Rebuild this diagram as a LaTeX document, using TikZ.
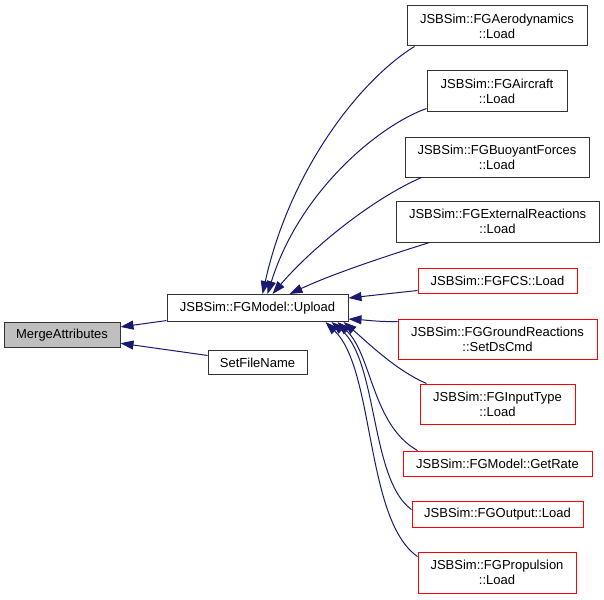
\documentclass[tikz,border=0pt]{standalone}
\usepackage{fontspec}
\setmainfont{Liberation Sans}
\usetikzlibrary{arrows.meta}
\definecolor{edgeblue}{RGB}{25,25,112}
\definecolor{boxgray}{RGB}{191,191,191}

\begin{document}
\begin{tikzpicture}[x=1pt,y=-1pt,
  fn/.style={draw=black!80,line width=1pt,fill=white,align=center,inner sep=0pt,
    font=\fontsize{13}{15}\selectfont},
  fnred/.style={fn,draw=red},
  call/.style={draw=edgeblue,line width=1pt,-{Triangle[length=13pt,width=9pt]}}]
  \useasboundingbox (0,0) rectangle (604,599);
  % left part
  \node[fn,fill=boxgray,minimum width=116pt,minimum height=25pt] (merge) at (62,335) {MergeAttributes};
  \node[fn,minimum width=181pt,minimum height=27pt] (upload) at (257.5,308) {JSBSim::FGModel::Upload};
  \node[fn,minimum width=99pt,minimum height=24pt] (setfile) at (257.5,362.5) {SetFileName};
  % callers of Upload
  \node[fn,minimum width=180pt,minimum height=40pt] (aero) at (497,26) {JSBSim::FGAerodynamics\\::Load};
  \node[fn,minimum width=140pt,minimum height=40pt] (aircraft) at (497,91) {JSBSim::FGAircraft\\::Load};
  \node[fn,minimum width=184pt,minimum height=40pt] (buoy) at (497,157) {JSBSim::FGBuoyantForces\\::Load};
  \node[fn,minimum width=203pt,minimum height=41pt] (ext) at (497.5,221.5) {JSBSim::FGExternalReactions\\::Load};
  \node[fnred,minimum width=159pt,minimum height=25pt] (fcs) at (497.5,280.5) {JSBSim::FGFCS::Load};
  \node[fnred,minimum width=199pt,minimum height=40pt] (ground) at (497.5,339) {JSBSim::FGGroundReactions\\::SetDsCmd};
  \node[fnred,minimum width=155pt,minimum height=40pt] (input) at (497.5,404) {JSBSim::FGInputType\\::Load};
  \node[fnred,minimum width=189pt,minimum height=25pt] (getrate) at (497.5,463.5) {JSBSim::FGModel::GetRate};
  \node[fnred,minimum width=171pt,minimum height=26pt] (output) at (497.5,514) {JSBSim::FGOutput::Load};
  \node[fnred,minimum width=158pt,minimum height=41pt] (prop) at (497,572.5) {JSBSim::FGPropulsion\\::Load};
  % edges
  \draw[call] (upload) -- (merge);
  \draw[call] (setfile) -- (merge);
  \draw[call] ([xshift=8pt]aero.south west) .. controls (360,80) and (290,170) .. ([xshift=5pt]upload.north);
  \draw[call] ([yshift=3pt]aircraft.south west) .. controls (380,125) and (300,190) .. ([xshift=10pt]upload.north);
  \draw[call] ([xshift=17pt]buoy.south west) .. controls (370,200) and (310,250) .. ([xshift=15pt]upload.north);
  \draw[call] ([xshift=34pt]ext.south west) .. controls (380,258) and (330,275) .. ([xshift=32pt]upload.north);
  \draw[call] ([yshift=3pt]fcs.south west) -- ([yshift=10pt]upload.east);
  \draw[call] ([yshift=-3pt]ground.north west) .. controls (380,322) and (365,320) .. ([yshift=-11pt]upload.east);
  \draw[call] ([xshift=7pt]input.north west) .. controls (395,370) and (365,340) .. ([xshift=-5pt]upload.south east);
  \draw[call] ([xshift=15pt]getrate.north west) .. controls (372,425) and (372,355) .. ([xshift=-11pt]upload.south east);
  \draw[call] ([yshift=-9pt]output.north west) .. controls (370,480) and (378,360) .. ([xshift=-17pt]upload.south east);
  \draw[call] ([yshift=-5pt]prop.north west) .. controls (365,520) and (375,370) .. ([xshift=-23pt]upload.south east);
\end{tikzpicture}
\end{document}
